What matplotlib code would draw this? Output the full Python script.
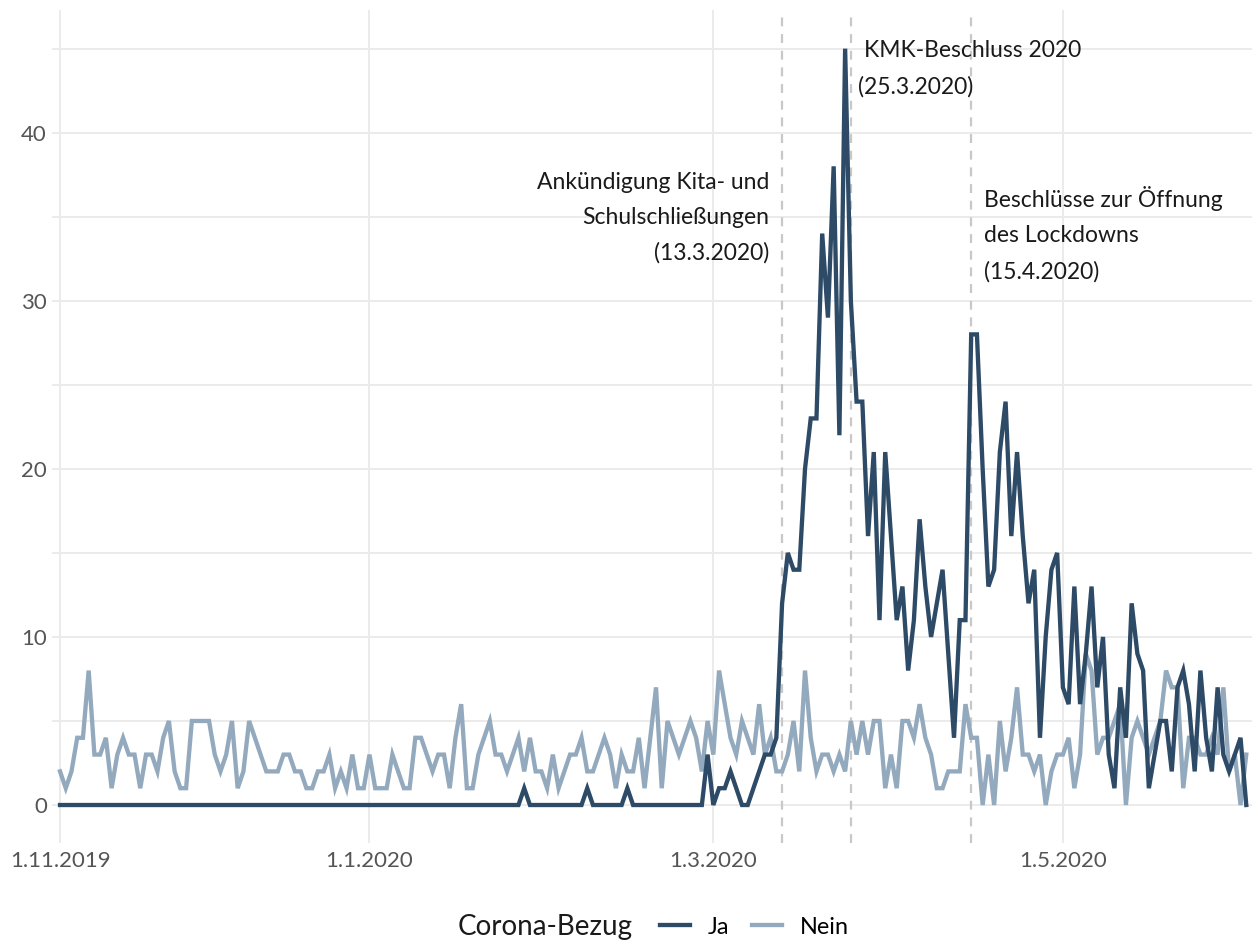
import matplotlib
matplotlib.use("Agg")
import matplotlib.pyplot as plt
import matplotlib.transforms as mtransforms
from matplotlib.lines import Line2D
import numpy as np

# ---------------- data ----------------
ja = ([0] * 81 + [1] + [0] * 10 + [1] + [0] * 6 + [1] + [0] * 13 +
      [3, 0, 1, 1, 2, 1, 0, 0, 1, 2, 3, 3, 4, 12, 15, 14, 14, 20, 23, 23,
       34, 29, 38, 22, 45, 30, 24, 24, 16, 21, 11, 21, 16, 11, 13, 8, 11, 17,
       13, 10, 12, 14, 9, 4, 11, 11, 28, 28, 20, 13, 14, 21, 24, 16, 21, 16,
       12, 14, 4, 10, 14, 15, 7, 6, 13, 6, 9, 13, 7, 10, 3, 1, 7, 4, 12, 9,
       8, 1, 3, 5, 5, 2, 7, 8, 6, 2, 8, 4, 2, 7, 3, 2, 3, 4, 0])

nein = [2, 1, 2, 4, 4, 8, 3, 3, 4, 1, 3, 4, 3, 3, 1, 3, 3, 2, 4, 5,
        2, 1, 1, 5, 5, 5, 5, 3, 2, 3, 5, 1, 2, 5, 4, 3, 2, 2, 2, 3,
        3, 2, 2, 1, 1, 2, 2, 3, 1, 2, 1, 3, 1, 1, 3, 1, 1, 1, 3, 2,
        1, 1, 4, 4, 3, 2, 3, 3, 1, 4, 6, 1, 1, 3, 4, 5, 3, 3, 2, 3,
        4, 2, 4, 2, 2, 1, 3, 1, 2, 3, 3, 4, 2, 2, 3, 4, 3, 1, 3, 2,
        2, 4, 1, 4, 7, 1, 5, 4, 3, 4, 5, 4, 2, 5, 3, 8, 6, 4, 3, 5,
        4, 3, 6, 3, 4, 2, 2, 3, 5, 2, 8, 4, 2, 3, 3, 2, 3, 2, 5, 3,
        5, 3, 5, 5, 1, 3, 1, 5, 5, 4, 6, 4, 3, 1, 1, 2, 2, 2, 6, 4,
        4, 0, 3, 0, 5, 2, 4, 7, 3, 3, 2, 3, 0, 2, 3, 3, 4, 1, 3, 9,
        8, 3, 4, 4, 5, 6, 0, 4, 5, 4, 3, 4, 5, 8, 7, 7, 1, 4, 4, 3,
        3, 4, 3, 7, 2, 3, 0, 3]

# x axis: observation index (days with data)
tick_idx = [0, 54, 114, 175]
tick_labels = ["1.11.2019", "1.1.2020", "1.3.2020", "1.5.2020"]
y_ticks = [0, 10, 20, 30, 40]
y_grid = [0, 5, 10, 15, 20, 25, 30, 35, 40, 45]

event_idx = [126, 138, 159]
event_labels = ["Ankündigung Kita- und\nSchulschließungen\n(13.3.2020)",
                "KMK-Beschluss 2020",
                "(25.3.2020)",
                "Beschlüsse zur Öffnung\ndes Lockdowns\n(15.4.2020)"]

series_names = ["Ja", "Nein"]
colors = ["#2d4a67", "#93a9bd"]
legend_title = "Corona-Bezug"

# ---------------- plot ----------------
plt.rcParams["font.family"] = ["Lato", "DejaVu Sans"]

W, H = 1252, 940
fig = plt.figure(figsize=(W / 100, H / 100), dpi=100)
ax = fig.add_axes([52 / W, (H - 843) / H, 1200 / W, 833 / H])

x = np.arange(len(ja))
ax.set_xlim(-1.4, 208.0)
ax.set_ylim(-2.26, 47.3)

grid_col = "#ebebeb"
for g in y_grid:
    ax.axhline(g, color=grid_col, lw=1.4, zorder=0)
for t in tick_idx:
    ax.axvline(t, color=grid_col, lw=1.4, zorder=0)

for e in event_idx:
    ax.axvline(e, color="#c8c8c8", lw=1.6, ls=(0, (4, 3.5)), zorder=1)

ax.plot(x, nein, color=colors[1], lw=3.1, zorder=2, solid_joinstyle="miter")
ax.plot(x, ja, color=colors[0], lw=3.1, zorder=3, solid_joinstyle="miter")

for s in ax.spines.values():
    s.set_visible(False)
ax.tick_params(length=0)
ax.set_xticks(tick_idx)
ax.set_xticklabels([])
ax.set_yticks(y_ticks)
ax.set_yticklabels([str(v) for v in y_ticks], fontsize=16, color="#555555")
ax.tick_params(axis="y", pad=3.6)

# x tick labels placed explicitly below the panel
xlab_tr = mtransforms.blended_transform_factory(ax.transData, fig.transFigure)
for t, lab in zip(tick_idx, tick_labels):
    ax.text(t, 1 - 861 / H, lab, transform=xlab_tr, ha="center", va="center",
            fontsize=16, color="#555555", clip_on=False)

txt_kw = dict(fontsize=16.5, color="#1a1a1a", linespacing=1.83)
ax.text(event_idx[0] - 2.2, 34.94, event_labels[0], ha="right", va="center", **txt_kw)
ax.text(event_idx[1] + 2.3, 44.9, event_labels[1], ha="left", va="center", **txt_kw)
ax.text(event_idx[1] + 1.3, 42.75, event_labels[2], ha="left", va="center", **txt_kw)
ax.text(event_idx[2] + 2.2, 33.95, event_labels[3], ha="left", va="center", **txt_kw)

# legend (title to the left, ggplot style)
fig.text(458 / W, 1 - 927 / H, legend_title, fontsize=20, color="#1a1a1a",
         ha="left", va="center")
handles = [Line2D([], [], color=c, lw=3.1) for c in colors]
fig.legend(handles, series_names, ncol=2, loc="center left",
           bbox_to_anchor=(660 / W, 1 - 927 / H), frameon=False, fontsize=16.8,
           handlelength=1.29, columnspacing=0.94, handletextpad=0.77,
           borderaxespad=0, borderpad=0)

fig.savefig("out.png", dpi=100)
